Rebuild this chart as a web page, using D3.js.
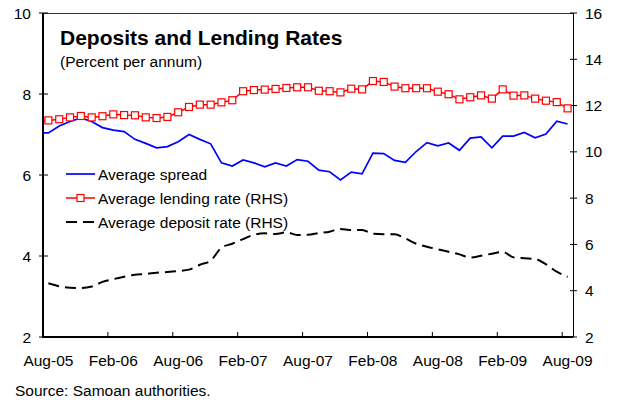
<!DOCTYPE html>
<html><head><meta charset="utf-8">
<script src="https://cdn.jsdelivr.net/npm/d3@7"></script>
<style>
body{margin:0;background:#fff;}
text{font-family:"Liberation Sans",Arial,sans-serif;fill:#000;}
</style></head>
<body><svg id="c" width="619" height="400"></svg>
<script>
const categories = ["Aug-05","Sep-05","Oct-05","Nov-05","Dec-05","Jan-06","Feb-06","Mar-06","Apr-06","May-06","Jun-06","Jul-06",
"Aug-06","Sep-06","Oct-06","Nov-06","Dec-06","Jan-07","Feb-07","Mar-07","Apr-07","May-07","Jun-07","Jul-07",
"Aug-07","Sep-07","Oct-07","Nov-07","Dec-07","Jan-08","Feb-08","Mar-08","Apr-08","May-08","Jun-08","Jul-08",
"Aug-08","Sep-08","Oct-08","Nov-08","Dec-08","Jan-09","Feb-09","Mar-09","Apr-09","May-09","Jun-09","Jul-09","Aug-09"];
const tickLabels = ["Aug-05","Feb-06","Aug-06","Feb-07","Aug-07","Feb-08","Aug-08","Feb-09","Aug-09"];
const leftTicks = [2,4,6,8,10];
const rightTicks = [2,4,6,8,10,12,14,16];
const spread = [7.04,7.21,7.32,7.41,7.32,7.17,7.11,7.07,6.88,6.78,6.67,6.70,
6.82,7.00,6.88,6.77,6.30,6.22,6.37,6.30,6.20,6.30,6.22,6.38,
6.34,6.12,6.08,5.88,6.07,6.03,6.54,6.53,6.36,6.31,6.58,6.80,
6.72,6.79,6.61,6.91,6.94,6.67,6.96,6.96,7.05,6.92,7.01,7.33,7.26];
const lending = [11.36,11.41,11.49,11.55,11.49,11.54,11.62,11.59,11.58,11.49,11.46,11.51,
11.71,11.94,12.04,12.04,12.14,12.23,12.62,12.67,12.69,12.72,12.76,12.79,
12.79,12.64,12.62,12.57,12.73,12.70,13.06,13.02,12.82,12.75,12.75,12.75,
12.60,12.49,12.27,12.36,12.44,12.30,12.70,12.43,12.44,12.30,12.21,12.15,11.88];
const deposit = [4.32,4.19,4.13,4.12,4.18,4.38,4.50,4.60,4.69,4.72,4.78,4.81,
4.85,4.91,5.12,5.30,5.86,6.03,6.23,6.42,6.48,6.45,6.52,6.41,
6.42,6.49,6.55,6.67,6.62,6.62,6.46,6.44,6.44,6.26,6.03,5.90,
5.79,5.68,5.57,5.43,5.51,5.60,5.68,5.44,5.40,5.37,5.14,4.82,4.60];
const seriesNames = ["Average spread","Average lending rate (RHS)","Average deposit rate (RHS)"];

const svg = d3.select("#c");
const L=43,R=573,T=13,B=337;
const FS=15.5;
const x = d3.scaleBand().domain(categories).range([L,R]).padding(0);
const yL = d3.scaleLinear().domain([2,10]).range([B,T]);
const yR = d3.scaleLinear().domain([2,16]).range([B,T]);
const cx = c => x(c)+x.bandwidth()/2;

// clip for lines (so the lead-in stub stops at the axis)
svg.append("defs").append("clipPath").attr("id","plot").append("rect")
  .attr("x",L).attr("y",T).attr("width",R-L).attr("height",B-T);

// frame
svg.append("line").attr("x1",L).attr("x2",R).attr("y1",T+0.5).attr("y2",T+0.5).attr("stroke","#333").attr("stroke-width",1);
svg.append("line").attr("x1",R+0.5).attr("x2",R+0.5).attr("y1",T).attr("y2",B).attr("stroke","#000").attr("stroke-width",1);

// left axis
const gl = svg.append("g");
gl.selectAll("line.t").data(leftTicks).join("line").attr("x1",L-4).attr("x2",L+5)
  .attr("y1",d=>yL(d)).attr("y2",d=>yL(d)).attr("stroke","#000").attr("stroke-width",1);
gl.selectAll("text").data(leftTicks).join("text").attr("x",31).attr("y",d=>yL(d)+5.5)
  .attr("text-anchor","end").attr("font-size",FS).text(d=>d);

// right axis
const gr = svg.append("g");
gr.selectAll("line").data(rightTicks).join("line").attr("x1",R-3).attr("x2",R+4)
  .attr("y1",d=>yR(d)).attr("y2",d=>yR(d)).attr("stroke","#000").attr("stroke-width",1);
gr.selectAll("text").data(rightTicks).join("text").attr("x",585).attr("y",d=>yR(d)+5.5)
  .attr("font-size",FS).text(d=>d);

// bottom axis
const gb = svg.append("g");
gb.selectAll("line").data(tickLabels).join("line").attr("x1",d=>x(d)).attr("x2",d=>x(d))
  .attr("y1",B-5).attr("y2",B).attr("stroke","#000").attr("stroke-width",1);
gb.selectAll("text").data(tickLabels).join("text").attr("x",d=>cx(d)).attr("y",366)
  .attr("text-anchor","middle").attr("font-size",FS).text(d=>d);

// series
const bw = x.bandwidth();
const xi = i => i < 0 ? cx(categories[0]) - bw : cx(categories[i]);
const withLead = arr => [{i:-1,v:arr[0]}].concat(arr.map((v,i)=>({i,v})));
const lineSpread = d3.line().x(d=>xi(d.i)).y(d=>yL(d.v));
const lineR = d3.line().x(d=>xi(d.i)).y(d=>yR(d.v));
const lineDep = d3.line().x((d,i)=>cx(categories[i])).y(d=>yR(d)).curve(d3.curveMonotoneX);

const gp = svg.append("g").attr("clip-path","url(#plot)");
gp.append("path").datum(deposit).attr("d",lineDep).attr("fill","none").attr("stroke","#000")
  .attr("stroke-width",2).attr("stroke-dasharray","11,6");
gp.append("path").datum(withLead(spread)).attr("d",lineSpread).attr("fill","none").attr("stroke","#0000ff").attr("stroke-width",1.7);
gp.append("path").datum(withLead(lending)).attr("d",lineR).attr("fill","none").attr("stroke","#ff0000").attr("stroke-width",1.5);
svg.selectAll("rect.m").data(lending).join("rect").attr("class","m")
  .attr("x",(d,i)=>cx(categories[i])-3.5).attr("y",d=>yR(d)-3.5).attr("width",7).attr("height",7)
  .attr("fill","#fff").attr("stroke","#ff0000").attr("stroke-width",1.2);

// axis lines on top
svg.append("line").attr("x1",L).attr("x2",L).attr("y1",T).attr("y2",B+1).attr("stroke","#000").attr("stroke-width",2);
svg.append("line").attr("x1",L-1).attr("x2",R).attr("y1",B).attr("y2",B).attr("stroke","#000").attr("stroke-width",2);

// title
svg.append("text").attr("x",60).attr("y",45).attr("font-size",21).attr("font-weight","bold").text("Deposits and Lending Rates");
svg.append("text").attr("x",60).attr("y",67).attr("font-size",FS).text("(Percent per annum)");

// legend
const lg = svg.append("g");
const ly = [174,198,222];
lg.append("line").attr("x1",66).attr("x2",95).attr("y1",ly[0]).attr("y2",ly[0]).attr("stroke","#0000ff").attr("stroke-width",1.7);
lg.append("line").attr("x1",66).attr("x2",95).attr("y1",ly[1]).attr("y2",ly[1]).attr("stroke","#ff0000").attr("stroke-width",1.5);
lg.append("rect").attr("x",77).attr("y",ly[1]-3.5).attr("width",7).attr("height",7).attr("fill","#fff").attr("stroke","#ff0000").attr("stroke-width",1.2);
lg.append("line").attr("x1",66).attr("x2",95).attr("y1",ly[2]).attr("y2",ly[2]).attr("stroke","#000").attr("stroke-width",2).attr("stroke-dasharray","11,6");
lg.selectAll("text").data(seriesNames).join("text").attr("x",98).attr("y",(d,i)=>ly[i]+5.5).attr("font-size",FS).text(d=>d);

svg.append("text").attr("x",15).attr("y",396).attr("font-size",FS).text("Source: Samoan authorities.");
</script></body></html>
